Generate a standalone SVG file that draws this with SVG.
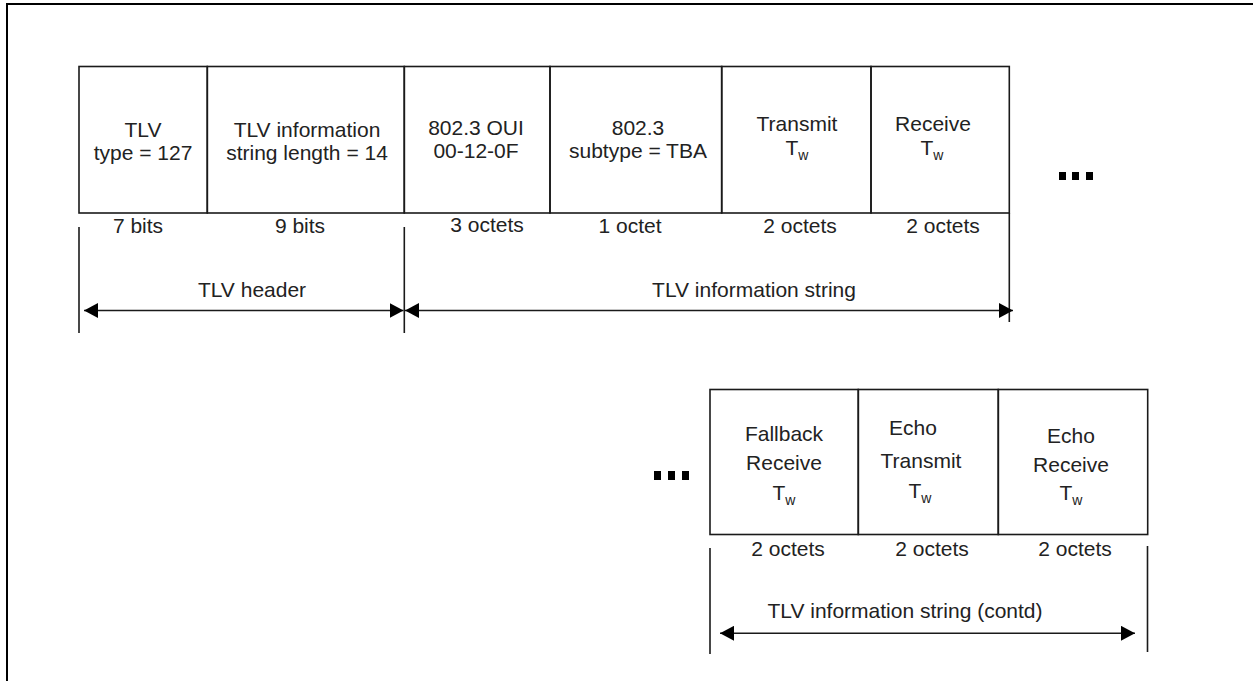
<svg xmlns="http://www.w3.org/2000/svg" width="1253" height="681" viewBox="0 0 1253 681">
<defs>
<style>
.t{font-family:"Liberation Sans",Arial,sans-serif;font-size:21px;fill:#222;text-anchor:middle}
.s{font-size:14px}
.box{fill:none;stroke:#1a1a1a;stroke-width:1.6}
.ln{stroke:#1a1a1a;stroke-width:1.6;fill:none}
.dot{fill:#000}
</style>
<marker id="ah" viewBox="0 0 14 15" refX="14" refY="7.5" markerWidth="14" markerHeight="15" markerUnits="userSpaceOnUse" orient="auto-start-reverse">
<path d="M0,0 L14,7.5 L0,15 Z" fill="#000"/>
</marker>
</defs>
<rect x="0" y="0" width="1253" height="681" fill="#fff"/>
<path d="M7,690 L7,4 L1260,4" fill="none" stroke="#000" stroke-width="2"/>

<g id="n-tlv-type">
<rect class="box" x="79" y="66.5" width="128.3" height="146.5"/>
<text class="t" x="143" y="137">TLV</text>
<text class="t" x="143" y="160">type = 127</text>
</g>
<g id="n-tlv-length">
<rect class="box" x="207.3" y="66.5" width="197" height="146.5"/>
<text class="t" x="307" y="137">TLV information</text>
<text class="t" x="307" y="160">string length = 14</text>
</g>
<g id="n-oui">
<rect class="box" x="404.3" y="66.5" width="145.7" height="146.5"/>
<text class="t" x="476" y="135">802.3 OUI</text>
<text class="t" x="476" y="158">00-12-0F</text>
</g>
<g id="n-subtype">
<rect class="box" x="550" y="66.5" width="171.7" height="146.5"/>
<text class="t" x="638" y="135">802.3</text>
<text class="t" x="638" y="158">subtype = TBA</text>
</g>
<g id="n-transmit">
<rect class="box" x="721.7" y="66.5" width="149.3" height="146.5"/>
<text class="t" x="797" y="131">Transmit</text>
<text class="t" x="797" y="155">T<tspan class="s" dy="5">w</tspan></text>
</g>
<g id="n-receive">
<rect class="box" x="871" y="66.5" width="138.3" height="146.5"/>
<text class="t" x="933" y="131">Receive</text>
<text class="t" x="932" y="155">T<tspan class="s" dy="5">w</tspan></text>
</g>
<g id="n-dots-top">
<rect class="dot" x="1059" y="172" width="7" height="8"/>
<rect class="dot" x="1072" y="172" width="7" height="8"/>
<rect class="dot" x="1086" y="172" width="7" height="8"/>
</g>

<g id="labels-top">
<text class="t" x="138" y="233">7 bits</text>
<text class="t" x="300" y="233">9 bits</text>
<text class="t" x="487" y="232">3 octets</text>
<text class="t" x="630" y="233">1 octet</text>
<text class="t" x="800" y="233">2 octets</text>
<text class="t" x="943" y="233">2 octets</text>
<text class="t" x="252" y="297">TLV header</text>
<text class="t" x="754" y="297">TLV information string</text>
</g>

<g id="n-fallback">
<rect class="box" x="710" y="389.5" width="148.3" height="145"/>
<text class="t" x="784" y="441">Fallback</text>
<text class="t" x="784" y="470">Receive</text>
<text class="t" x="784" y="500">T<tspan class="s" dy="5">w</tspan></text>
</g>
<g id="n-echo-transmit">
<rect class="box" x="858.3" y="389.5" width="140" height="145"/>
<text class="t" x="913" y="435">Echo</text>
<text class="t" x="921" y="468">Transmit</text>
<text class="t" x="920" y="498">T<tspan class="s" dy="5">w</tspan></text>
</g>
<g id="n-echo-receive">
<rect class="box" x="998.3" y="389.5" width="149.4" height="145"/>
<text class="t" x="1071" y="443">Echo</text>
<text class="t" x="1071" y="472">Receive</text>
<text class="t" x="1071" y="500">T<tspan class="s" dy="5">w</tspan></text>
</g>
<g id="n-dots-bottom">
<rect class="dot" x="654" y="471" width="7" height="9"/>
<rect class="dot" x="668" y="471" width="7" height="9"/>
<rect class="dot" x="682" y="471" width="7" height="9"/>
</g>

<g id="labels-bottom">
<text class="t" x="788" y="556">2 octets</text>
<text class="t" x="932" y="556">2 octets</text>
<text class="t" x="1075" y="556">2 octets</text>
<text class="t" x="905" y="618">TLV information string (contd)</text>
</g>

<g id="connectors">
<line class="ln" x1="79" y1="227" x2="79" y2="333"/>
<line class="ln" x1="404.3" y1="227" x2="404.3" y2="333"/>
<line class="ln" x1="1009.3" y1="213" x2="1009.3" y2="322"/>
<line class="ln" x1="84" y1="310.5" x2="403.5" y2="310.5" marker-start="url(#ah)" marker-end="url(#ah)"/>
<line class="ln" x1="405" y1="310.5" x2="1013" y2="310.5" marker-start="url(#ah)" marker-end="url(#ah)"/>
<line class="ln" x1="710" y1="548" x2="710" y2="654"/>
<line class="ln" x1="1147.5" y1="546" x2="1147.5" y2="652"/>
<line class="ln" x1="720" y1="633.3" x2="1135" y2="633.3" marker-start="url(#ah)" marker-end="url(#ah)"/>
</g>
</svg>
